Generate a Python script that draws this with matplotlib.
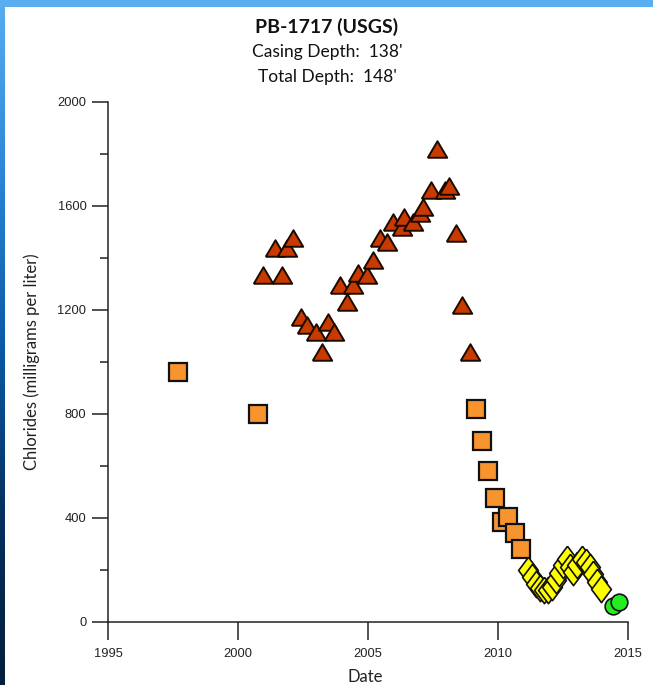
import matplotlib
matplotlib.use("Agg")
import matplotlib.pyplot as plt
import numpy as np
from matplotlib.colors import LinearSegmentedColormap

# ---- data (decimal year, chloride mg/L) ----
tri_years = [2000.97, 2001.42, 2001.68, 2001.87, 2002.13, 2002.42, 2002.64, 2003.00,
             2003.22, 2003.47, 2003.70, 2003.92, 2004.18, 2004.43, 2004.63, 2004.95,
             2005.20, 2005.46, 2005.74, 2005.97, 2006.29, 2006.40, 2006.74, 2007.00,
             2007.13, 2007.41, 2007.67, 2007.96, 2008.13, 2008.37, 2008.63, 2008.92]
tri_values = [1335, 1437, 1335, 1437, 1476, 1174, 1142, 1117,
              1040, 1155, 1117, 1296, 1232, 1296, 1341, 1335,
              1392, 1476, 1463, 1540, 1520, 1559, 1540, 1572,
              1597, 1662, 1820, 1662, 1677, 1495, 1219, 1040]

sq_years = [1997.69, 2000.77, 2009.14, 2009.38, 2009.62, 2009.88, 2010.14, 2010.38,
            2010.65, 2010.87]
sq_values = [960, 800, 819, 697, 581, 477, 386, 405, 342, 281]

dia_years = [2011.15, 2011.30, 2011.45, 2011.60, 2011.75, 2011.92, 2012.08, 2012.22,
             2012.36, 2012.50, 2012.64, 2012.78, 2012.90, 2013.05, 2013.22, 2013.37,
             2013.52, 2013.66, 2013.80, 2013.95]
dia_values = [200, 172, 148, 130, 123, 125, 135, 160,
              190, 220, 243, 210, 192, 220, 243, 232,
              210, 185, 155, 128]

circ_years = [2014.43, 2014.67]
circ_values = [62, 78]

x_ticks = [1995, 2000, 2005, 2010, 2015]
y_ticks = [0, 400, 800, 1200, 1600, 2000]

# ---- figure ----
W, H = 653, 685
fig = plt.figure(figsize=(W / 100, H / 100), dpi=100)
fig.patch.set_facecolor("white")

# slide background strips
bg = fig.add_axes([0, 0, 1, 1], zorder=-10)
bg.set_xlim(0, W)
bg.set_ylim(H, 0)
bg.axis("off")
grad = np.linspace(0, 1, 256).reshape(-1, 1)
cmap = LinearSegmentedColormap.from_list("bl", ["#58aef0", "#2d86d8", "#0a5aa8", "#06305e", "#041e3c"])
bg.imshow(grad, cmap=cmap, extent=[0, 5, H, 0], aspect="auto")
bg.add_patch(plt.Rectangle((0, 0), W, 7, color="#58aef0", lw=0))

ax = fig.add_axes([108 / W, (H - 622) / H, (628 - 108) / W, (622 - 102) / H])
ax.set_xlim(1995, 2015)
ax.set_ylim(0, 2000)
ax.patch.set_alpha(0)
for s in ["top", "right"]:
    ax.spines[s].set_visible(False)
for s in ["left", "bottom"]:
    ax.spines[s].set_color("#222222")
    ax.spines[s].set_linewidth(1.1)

ax.set_xticks(x_ticks)
ax.set_yticks(y_ticks)
ax.set_yticks(np.arange(200, 2000, 400), minor=True)
tickfont = dict(family="Liberation Sans", size=9.3)
ax.set_xticklabels([str(t) for t in x_ticks], **tickfont, color="#222222")
ax.set_yticklabels([str(t) for t in y_ticks], **tickfont, color="#222222")
ax.tick_params(axis="x", direction="out", length=13, width=1.1, color="#222222", pad=6)
ax.tick_params(axis="y", which="major", direction="out", length=11.5, width=1.1, color="#222222", pad=4)
ax.tick_params(axis="y", which="minor", direction="out", length=5.8, width=1.1, color="#222222")

tri_marker = [(-1, -0.85), (1, -0.85), (0, 0.85), (-1, -0.85)]
ax.plot(tri_years, tri_values, linestyle="none", marker=tri_marker, markersize=14,
        markerfacecolor="#c83a00", markeredgecolor="#1a0a00", markeredgewidth=1.4, clip_on=False)
ax.plot(sq_years, sq_values, linestyle="none", marker="s", markersize=13,
        markerfacecolor="#f7942e", markeredgecolor="#111111", markeredgewidth=1.6, clip_on=False)
dia_marker = [(0, 1), (0.75, 0), (0, -1), (-0.75, 0), (0, 1)]
ax.plot(dia_years, dia_values, linestyle="none", marker=dia_marker, markersize=19,
        markerfacecolor="#ffff00", markeredgecolor="#111111", markeredgewidth=1.2, clip_on=False)
ax.plot(circ_years, circ_values, linestyle="none", marker="o", markersize=12,
        markerfacecolor="#22ee22", markeredgecolor="#111111", markeredgewidth=1.2, clip_on=False)

ax.set_ylabel("Chlorides (milligrams per liter)", family="Lato", fontsize=12, color="#222222")
ax.yaxis.set_label_coords((32 - 108) / (628 - 108), (622 - 362) / (622 - 102))
ax.set_xlabel("Date", family="Lato", fontsize=12, color="#222222")
ax.xaxis.set_label_coords((365 - 108) / (628 - 108), -(677 - 622) / (622 - 102))
ax.xaxis.label.set_va("center")
ax.yaxis.label.set_va("center")

fig.text(327 / W, 1 - 27 / H, "PB-1717 (USGS)", family="Lato", weight="bold",
         fontsize=14, ha="center", va="center", color="#111111")
fig.text(327 / W, 1 - 52 / H, "Casing Depth:  138'", family="Lato",
         fontsize=12.5, ha="center", va="center", color="#111111")
fig.text(327 / W, 1 - 77 / H, "Total Depth:  148'", family="Lato",
         fontsize=12.5, ha="center", va="center", color="#111111")

fig.savefig("out.png", dpi=100)
